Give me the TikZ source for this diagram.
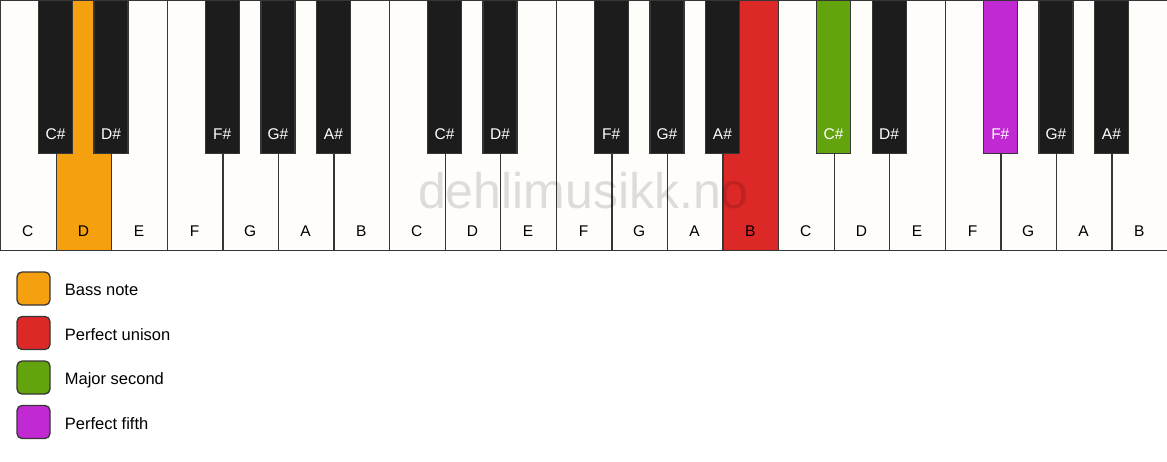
\documentclass[tikz,border=0pt]{standalone}
\usepackage{fontspec}
\setmainfont{Liberation Sans}
\usetikzlibrary{positioning}
\definecolor{keywhite}{HTML}{FFFDF9}
\definecolor{keyblack}{HTML}{1C1C1C}
\definecolor{keyedge}{HTML}{363636}
\definecolor{bass}{HTML}{F4A00F}
\definecolor{unison}{HTML}{DD2828}
\definecolor{second}{HTML}{62A30E}
\definecolor{fifth}{HTML}{C12AD2}
\newcommand{\kw}{55.5714}
\tikzstyle{whitekey} = [draw=keyedge, line width=1.3pt, anchor=north west, minimum width=55.57pt, minimum height=249.5pt, inner sep=0pt]
\tikzstyle{blackkey} = [draw=keyedge, line width=1.3pt, anchor=north, minimum width=34pt, minimum height=153pt, inner sep=0pt]
\tikzstyle{legendbox} = [draw=keyedge, line width=1.3pt, rounded corners=5pt, minimum size=33pt, inner sep=0pt]

\begin{document}
\begin{tikzpicture}[x=1pt, y=-1pt, every node/.style={font=\fontsize{15.5}{18}\selectfont}]
        \useasboundingbox (0,0) rectangle (1167,461);

        % white keys
        \foreach \n/\c [count=\i from 0] in {C/keywhite, D/bass, E/keywhite, F/keywhite, G/keywhite, A/keywhite, B/keywhite,
            C/keywhite, D/keywhite, E/keywhite, F/keywhite, G/keywhite, A/keywhite, B/unison,
            C/keywhite, D/keywhite, E/keywhite, F/keywhite, G/keywhite, A/keywhite, B/keywhite} {
          \node[whitekey, fill=\c] (w\i) at (\i*\kw,0) {};
          \node[anchor=base, inner sep=0pt] (lw\i) at (\i*\kw+\kw/2,236) {\n};
        }

        % black keys
        \foreach \p/\n/\c in {1/C/keyblack, 2/D/keyblack, 4/F/keyblack, 5/G/keyblack, 6/A/keyblack,
            8/C/keyblack, 9/D/keyblack, 11/F/keyblack, 12/G/keyblack, 13/A/keyblack,
            15/C/second, 16/D/keyblack, 18/F/fifth, 19/G/keyblack, 20/A/keyblack} {
          \node[blackkey, fill=\c] (b\p) at (\p*\kw,0) {};
          \node[anchor=base, inner sep=0pt, text=white] (lb\p) at (\p*\kw,139) {\n\#};
        }

        % watermark
        \node[anchor=base, inner sep=0pt, text=black, opacity=0.13, font=\fontsize{50}{58}\selectfont] (mark) at (583.5,208) {dehlimusikk.no};

        % legend
        \node[legendbox, fill=bass] (bassbox) at (33.5,288.5) {};
        \node[legendbox, fill=unison] (unisonbox) at (33.5,333) {};
        \node[legendbox, fill=second] (secondbox) at (33.5,377.5) {};
        \node[legendbox, fill=fifth] (fifthbox) at (33.5,422) {};
        \foreach \b/\t in {bassbox/Bass note, unisonbox/Perfect unison, secondbox/Major second, fifthbox/Perfect fifth}
          \node[anchor=base west, inner sep=0pt, font=\fontsize{16.5}{19}\selectfont] (\b text) at ([xshift=14pt, yshift=-7pt]\b.east) {\t};
      \end{tikzpicture}
\end{document}
